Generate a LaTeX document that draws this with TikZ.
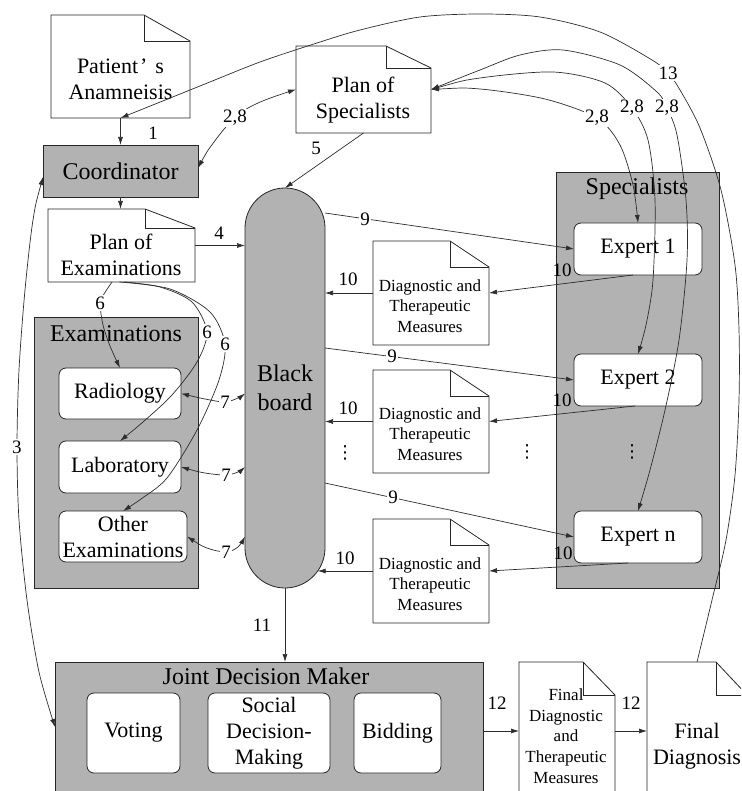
\documentclass[tikz,border=0pt]{standalone}
\usepackage{fontspec}
\setmainfont{Liberation Serif}
\newfontfamily\symbfont{DejaVu Sans}
\usetikzlibrary{arrows.meta,calc}

\definecolor{panel}{RGB}{178,178,178}
\definecolor{wire}{RGB}{45,45,45}

% document symbol with a folded top-right corner
% #1 name, #2 left, #3 top, #4 right, #5 bottom, #6 fold width, #7 fold height
\newcommand\docsheet[7]{%
  \node[minimum width={#4-#2}, minimum height={#5-#3}] (#1) at ({(#2+#4)/2},{(#3+#5)/2}) {};
  \draw[sheet] (#1.north west) -- ([xshift=-#6pt]#1.north east)
    -- ([yshift=-#7pt]#1.north east) -- (#1.south east) -- (#1.south west) -- cycle;
  \draw[sheet, fill=none] ([xshift=-#6pt]#1.north east)
    -- ([xshift=-#6pt, yshift=-#7pt]#1.north east) -- ([yshift=-#7pt]#1.north east);
}

\begin{document}
\begin{tikzpicture}[x=1pt, y=-1pt,
  every node/.style={inner sep=0pt, outer sep=0pt},
  sheet/.style={draw=black!85, line width=0.8pt, fill=white},
  panelbox/.style={draw=black!85, line width=0.8pt, fill=panel},
  unit/.style={draw=black!85, line width=0.8pt, fill=white, rounded corners=7pt},
  bigtxt/.style={font=\fontsize{24}{29}\selectfont, align=center},
  boxtxt/.style={font=\fontsize{22}{26}\selectfont, align=center},
  smalltxt/.style={font=\fontsize{17}{20.7}\selectfont, align=center},
  num/.style={font=\fontsize{19}{19}\selectfont, inner sep=1.2pt},
  numw/.style={num, fill=white},
  ellip/.style={font=\symbfont\fontsize{18}{18}\selectfont},
  wirestyle/.style={draw=wire, line width=0.7pt},
  arr/.style={wirestyle, -{Latex[length=8pt,width=5pt]}},
  biarr/.style={wirestyle, {Latex[length=8pt,width=5pt]}-{Latex[length=8pt,width=5pt]}},
]
\useasboundingbox (0,0) rectangle (741,791);
\clip (0,0) rectangle (741,791);

% ---------- grey panels ----------
\node[panelbox, bigtxt, minimum width=155pt, minimum height=52pt] (coord) at (120.5,171) {Coordinator};
\node[panelbox, minimum width=164pt, minimum height=271pt] (exams) at (116,452.5) {};
\node[bigtxt] (exams-t) at (116,334) {Examinations};
\node[panelbox, minimum width=163pt, minimum height=416pt] (spec) at (637.5,380) {};
\node[bigtxt] (spec-t) at (637,189) {Specialists};
\node[panelbox, minimum width=428pt, minimum height=138pt] (jdm) at (269,731) {};
\node[bigtxt] (jdm-t) at (266,676) {Joint Decision Maker};
\node[panelbox, bigtxt, rounded corners=40pt, minimum width=80pt, minimum height=400pt] (bb) at (285,388) {Black\\board};

% ---------- units inside the panels ----------
\node[unit, boxtxt, minimum width=122pt, minimum height=51pt] (rad) at (120,393.5) {Radiology};
\node[unit, boxtxt, minimum width=122pt, minimum height=52pt] (lab) at (120,467) {Laboratory};
\node[unit, boxtxt, minimum width=128pt, minimum height=51pt] (oth) at (123,536.5) {Other\\Examinations};
\node[unit, boxtxt, minimum width=128pt, minimum height=52pt] (e1) at (638,249) {Expert 1};
\node[unit, boxtxt, minimum width=128pt, minimum height=52pt] (e2) at (638,380) {Expert 2};
\node[unit, boxtxt, minimum width=128pt, minimum height=52pt] (e3) at (638,537) {Expert n};
\node[unit, boxtxt, minimum width=93pt, minimum height=80pt] (vote) at (133.5,733) {Voting};
\node[unit, boxtxt, minimum width=122pt, minimum height=80pt] (social) at (269,733) {Social\\Decision-\\Making};
\node[unit, boxtxt, minimum width=87pt, minimum height=80pt] (bid) at (397.5,733) {Bidding};

% ---------- documents ----------
\docsheet{pa}{51}{15}{190}{118}{46}{26}
\docsheet{ps}{296}{46}{431}{133}{45}{22}
\docsheet{pe}{48}{209}{195}{282}{50}{19}
\docsheet{d1}{373}{241}{489}{345}{39}{26}
\docsheet{d2}{373}{370}{489}{473}{39}{26}
\docsheet{d3}{373}{519}{489}{623}{39}{26}
\docsheet{fdt}{519}{662}{615}{800}{32}{33}
\docsheet{fd}{647}{662}{747}{800}{31}{33}

\node[boxtxt] (pa-t) at (120.5,79) {Patient\kern2pt’\kern8pt s\\Anamneisis};
\node[boxtxt] (ps-t) at (363,100) {Plan of\\Specialists};
\node[boxtxt] (pe-t) at (121,255) {Plan of\\Examinations};
\node[smalltxt] (d1-t) at (430,306) {Diagnostic and\\Therapeutic\\Measures};
\node[smalltxt] (d2-t) at (430,434) {Diagnostic and\\Therapeutic\\Measures};
\node[smalltxt] (d3-t) at (430,584) {Diagnostic and\\Therapeutic\\Measures};
\node[smalltxt] (fdt-t) at (566,736) {Final\\Diagnostic\\and\\Therapeutic\\Measures};
\node[boxtxt] (fd-t) at (697,746) {Final\\Diagnosis};

% ---------- straight connectors ----------
\draw[arr] (pa.south) -- (coord.north);
\draw[arr] (coord.south) -- (coord.south |- pe.north);
\draw[arr] (pe.east) -- (pe.east -| bb.west);
\draw[arr] (ps.south) -- (bb.north);
\draw[arr] ([yshift=-25pt]bb.north east) -- (e1.west);
\draw[arr] ([yshift=-160pt]bb.north east) -- (e2.west);
\draw[arr] ([yshift=-295pt]bb.north east) -- (e3.west);
\draw[arr] ([xshift=-5pt]e1.south) -- (d1.east);
\draw[arr] ([xshift=-3pt]e2.south) -- (d2.east);
\draw[arr] ([xshift=-10pt]e3.south) -- (d3.east);
\draw[arr] (d1.west) -- (d1.west -| bb.east);
\draw[arr] (d2.west) -- (d2.west -| bb.east);
\draw[arr] (d3.west) -- ($(d3.west -| bb.east)+(-7.3,0)$);
\draw[arr] (bb.south) -- (bb.south |- jdm.north);
\draw[arr] (jdm.east) -- (fdt.west);
\draw[arr] (fdt.east) -- (fd.west);

% ---------- curved connectors ----------
\draw[biarr] plot[smooth, tension=0.7] coordinates {([yshift=3pt]coord.east) (214,142) (235,118) (258,103) (ps.west)};
\draw[biarr] plot[smooth] coordinates {(ps.east) (480,89) (545,99) (597,118) (620,145) (633,185) (e1.north)};
\draw[biarr] plot[smooth] coordinates {(ps.east) (480,78) (553,72) (605,83) (632,108) (648,140) (655,200) (653,280) (646,325) (e2.north)};
\draw[biarr] plot[smooth] coordinates {(ps.east) (480,70) (520,55) (563,50) (620,65) (657,92) (667,108) (677,135) (686,200) (687,260) (679,340) (665,410) (650,470) (e3.north)};
\draw[arr] plot[smooth] coordinates {(fd.north) (712,600) (726,540) (735,475) (739,400) (739,330) (735,265) (721,190) (700,128) (680,90) (668,73) (652,60) (600,32) (540,17) (480,14) (420,17) (360,30) (317,43) (260,62) (200,86) (pa.south)};
\draw[biarr] plot[smooth] coordinates {([yshift=-6pt]coord.west) (33,220) (25,290) (19,370) (17,447) (19,520) (27,600) (39,672) ([yshift=4pt]jdm.west)};
\draw[arr] plot[smooth] coordinates {([xshift=-9.5pt]pe.south) (104,294) (100,303) (103,325) (110,346) (rad.north)};
\draw[arr] plot[smooth] coordinates {([xshift=3pt]pe.south) (160,287) (192,302) (207,332) (197,362) (172,395) (143,422) (lab.north)};
\draw[arr] plot[smooth] coordinates {([xshift=-2pt]pe.south) (170,289) (210,312) (225,344) (219,380) (197,430) (167,478) (141,499) (oth.north)};
\draw[biarr] plot[smooth] coordinates {(rad.east) (205,399) (225,402) (238,398) (bb.west |- rad.east)};
\draw[biarr] plot[smooth] coordinates {(lab.east) (205,473) (226,475) (238,472) (bb.west |- lab.east)};
\draw[biarr] plot[smooth] coordinates {(oth.east) (207,548) (226,552) (238,547) (bb.west |- oth.east)};

% ---------- connector labels ----------
\node[num] (n1) at (153,133) {1};
\node[numw] (n28a) at (235,118) {2,8};
\node[numw] (n28b) at (597,118) {2,8};
\node[numw] (n28c) at (632,108) {2,8};
\node[numw] (n28d) at (667,108) {2,8};
\node[numw] (n13) at (668,73) {13};
\node[num] (n5) at (316,148) {5};
\node[num] (n4) at (219,233) {4};
\node[numw] (n3) at (17,447) {3};
\node[numw] (n6a) at (100,303) {6};
\node[numw] (n6b) at (207,332) {6};
\node[numw] (n6c) at (225,344) {6};
\node[numw] (n7a) at (225,402) {7};
\node[numw] (n7b) at (226,475) {7};
\node[numw] (n7c) at (226,552) {7};
\node[numw] (n9a) at (365,219) {9};
\node[numw] (n9b) at (392,356) {9};
\node[numw] (n9c) at (393,497) {9};
\node[num] (n10a) at (348,279) {10};
\node[num] (n10b) at (348,408) {10};
\node[num] (n10c) at (345,558) {10};
\node[num] (n10d) at (562,270) {10};
\node[num] (n10e) at (562,400) {10};
\node[num] (n10f) at (563,553) {10};
\node[num] (n11) at (262,625) {11};
\node[num] (n12a) at (497,703) {12};
\node[num] (n12b) at (631,703) {12};

% ---------- ellipsis marks ----------
\node[ellip] (dots1) at (345,453) {⋮};
\node[ellip] (dots2) at (527,452) {⋮};
\node[ellip] (dots3) at (632,452) {⋮};
\end{tikzpicture}
\end{document}
